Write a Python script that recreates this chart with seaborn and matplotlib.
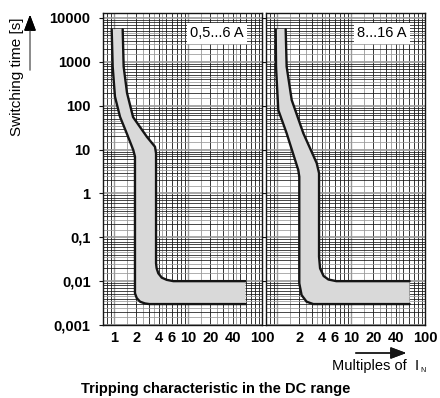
import matplotlib
matplotlib.use("Agg")
import numpy as np
import matplotlib.pyplot as plt
from matplotlib.lines import Line2D
from matplotlib.ticker import NullLocator
import seaborn as sns

# --- data (multiples of I_N, switching time in s) ---
# panel 1: 0,5...6 A
p1_low_m = [0.93, 0.96, 1.03, 1.205, 1.485, 1.82, 1.92, 1.92, 2.03, 2.25, 2.62, 3.0, 60]
p1_low_t = [5530, 776, 161, 56, 23.5, 9.8, 6.9, 0.0053, 0.0041, 0.0034, 0.0031, 0.0030, 0.0030]
p1_up_m = [1.31, 1.35, 1.50, 1.81, 2.79, 3.58, 3.70, 3.70, 3.77, 3.97, 4.42, 5.16, 6.33, 60]
p1_up_t = [5530, 776, 195, 55, 19.4, 11.6, 8.2, 0.0255, 0.0196, 0.0151, 0.0120, 0.0107, 0.0100, 0.0100]

# panel 2: 8...16 A
p2_low_m = [0.96, 0.97, 1.04, 1.35, 1.94, 2.0, 2.0, 2.15, 2.51, 3.09, 62]
p2_low_t = [5530, 776, 80, 23.5, 3.4, 2.4, 0.0089, 0.0048, 0.0034, 0.0030, 0.0030]
p2_up_m = [1.31, 1.35, 1.58, 2.27, 3.44, 3.70, 3.70, 3.82, 4.26, 4.95, 6.33, 62]
p2_up_t = [5530, 776, 135, 23.5, 4.9, 2.9, 0.036, 0.0196, 0.0131, 0.0109, 0.0100, 0.0100]

panel_labels = ["0,5...6 A", "8...16 A"]
y_ticks = [0.001, 0.01, 0.1, 1, 10, 100, 1000, 10000]
y_ticklabels = ["0,001", "0,01", "0,1", "1", "10", "100", "1000", "10000"]
x_ticks_1 = [1, 2, 4, 6, 10, 20, 40, 100]
x_ticks_2 = [2, 4, 6, 10, 20, 40, 100]

sns.set_theme(style="white")
plt.rcParams["font.family"] = ["Liberation Sans", "DejaVu Sans"]
plt.rcParams["text.color"] = "black"
plt.rcParams["xtick.color"] = "black"
plt.rcParams["ytick.color"] = "black"

W, H = 440, 398
fig = plt.figure(figsize=(W / 100, H / 100), dpi=100)
ax1 = fig.add_axes([103 / W, 73 / H, 159 / W, 312 / H])
ax2 = fig.add_axes([266 / W, 73 / H, 159 / W, 312 / H])

BLACK = "#151515"
GRAY = "#999999"


def draw_grid(ax):
    for d in [0.1, 1, 10]:
        for k in range(1, 10):
            v = k * d
            if 0.7 < v <= 100:
                ax.axvline(v, color=GRAY if k == 1 else BLACK, lw=1.0 if k == 1 else 0.6, zorder=1)
            v = (k + 0.5) * d
            if k <= 4 and 0.7 < v < 100:
                ax.axvline(v, color=GRAY, lw=0.6, zorder=1)
    for e in range(-3, 5):
        d = 10.0 ** e
        for k in range(1, 10):
            ax.axhline(k * d, color=GRAY if k == 1 else BLACK, lw=1.2 if k == 1 else 0.55, zorder=1)
            if k <= 4:
                ax.axhline((k + 0.5) * d, color=GRAY, lw=0.55, zorder=1)


for ax, low_m, low_t, up_m, up_t, lab in [
    (ax1, p1_low_m, p1_low_t, p1_up_m, p1_up_t, panel_labels[0]),
    (ax2, p2_low_m, p2_low_t, p2_up_m, p2_up_t, panel_labels[1]),
]:
    ax.set_xscale("log")
    ax.set_yscale("log")
    ax.set_xlim(0.71, 100)
    ax.set_ylim(0.001, 13000)
    draw_grid(ax)
    ax.fill(np.r_[low_m, up_m[::-1]], np.r_[low_t, up_t[::-1]],
            color="#d9d9d9", lw=0, zorder=3)
    sns.lineplot(x=low_m, y=low_t, sort=False, estimator=None, color=BLACK,
                 lw=1.7, ax=ax, zorder=4, legend=False)
    sns.lineplot(x=up_m, y=up_t, sort=False, estimator=None, color=BLACK,
                 lw=1.7, ax=ax, zorder=4, legend=False)
    ax.text(0.885, 0.935, lab, transform=ax.transAxes, ha="right", va="center",
            fontsize=10.5, zorder=6,
            bbox=dict(facecolor="white", edgecolor="none", pad=2.5))
    for s in ax.spines.values():
        s.set_color(BLACK)
        s.set_linewidth(1.0)
        s.set_zorder(5)
    ax.xaxis.set_minor_locator(NullLocator())
    ax.yaxis.set_minor_locator(NullLocator())
    ax.set_yticks(y_ticks)
    ax.tick_params(axis="y", length=3, width=0.8, color=BLACK, left=True, pad=6)
    ax.tick_params(axis="x", length=0, pad=4)
    ax.set_xlabel("")
    ax.set_ylabel("")

ax1.set_yticklabels(y_ticklabels, fontweight="bold", fontsize=10.5)
ax2.set_yticklabels([])
ax1.set_xticks(x_ticks_1)
ax1.set_xticklabels([str(v) for v in x_ticks_1], fontweight="bold", fontsize=10.5)
ax2.set_xticks(x_ticks_2)
ax2.set_xticklabels([str(v) for v in x_ticks_2], fontweight="bold", fontsize=10.5)


def fx(px):
    return px / W


def fy(py):
    return 1 - py / H


# y axis label with arrow
fig.text(fx(17), fy(77), "Switching time [s]", rotation=90, ha="center",
         va="center", fontsize=11)
fig.add_artist(Line2D([fx(30), fx(30)], [fy(70), fy(24)], color="#777777",
                      lw=1.2, transform=fig.transFigure))
fig.add_artist(plt.annotate("", xy=(fx(30), fy(12)), xytext=(fx(30), fy(25)),
                            xycoords="figure fraction",
                            arrowprops=dict(arrowstyle="-|>,head_length=0.8,head_width=0.3",
                                            color="black", lw=1)))

# x axis label with arrow
fig.add_artist(plt.annotate("", xy=(fx(409), fy(353)), xytext=(fx(353), fy(353)),
                            xycoords="figure fraction",
                            arrowprops=dict(arrowstyle="-|>,head_length=0.8,head_width=0.3",
                                            color=BLACK, lw=1)))
fig.text(fx(419), fy(366), "Multiples of  I", ha="right", va="center", fontsize=10.5)
fig.text(fx(420), fy(370), "N", ha="left", va="center", fontsize=5)

fig.text(fx(216), fy(389), "Tripping characteristic in the DC range",
         ha="center", va="center", fontsize=10.5, fontweight="bold")

fig.savefig("out.png", dpi=100)
